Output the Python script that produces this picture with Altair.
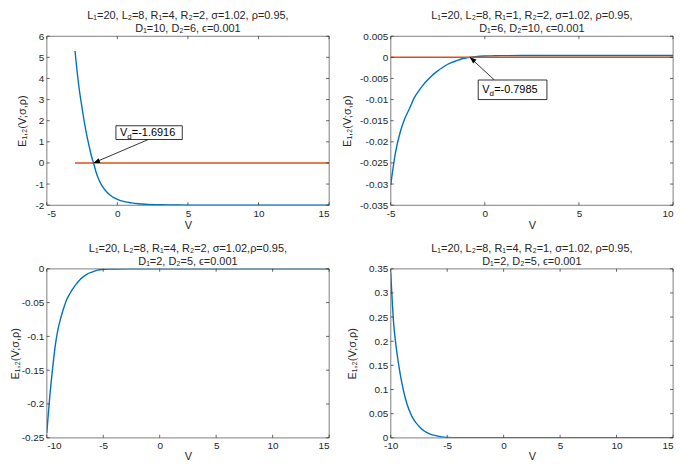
import altair as alt
import pandas as pd

FONT = "Liberation Sans"
BLUE = "#0072BD"
ORANGE = "#D95319"
INK = "#262626"
W, H = 284, 170

# ---------------- data ----------------
p1_v = [-3, -2.75, -2.5, -2.25, -2, -1.75, -1.6916, -1.5, -1.25, -1, -0.75, -0.5,
        -0.25, 0, 0.5, 1, 1.5, 2, 3, 4, 5, 15]
p1_e = [5.3, 3.75, 2.6, 1.6, 0.8, 0.12, 0, -0.45, -0.88, -1.17, -1.38, -1.53,
        -1.64, -1.72, -1.83, -1.89, -1.93, -1.955, -1.98, -1.99, -2, -2]

p2_v = [-5, -4.75, -4.5, -4.25, -4, -3.75, -3.5, -3.25, -3, -2.75, -2.5, -2.25,
        -2, -1.75, -1.5, -1.25, -1, -0.7985, -0.5, 0, 0.5, 1, 2, 4, 10]
p2_e = [-0.0302, -0.0226, -0.0178, -0.0145, -0.0121, -0.0096, -0.0079, -0.0064,
        -0.0052, -0.0041, -0.0032, -0.0024, -0.0017, -0.0012, -0.0008, -0.0004,
        -0.00015, 0, 0.00015, 0.0003, 0.00036, 0.0004, 0.00042, 0.00043, 0.00043]

p3_v = [-10, -9.75, -9.5, -9.25, -9, -8.75, -8.5, -8.25, -8, -7.5, -7, -6.5, -6,
        -5.5, -5, -4.5, -4, -3, 15]
p3_e = [-0.243, -0.192, -0.150, -0.114, -0.089, -0.072, -0.058, -0.046, -0.038,
        -0.025, -0.015, -0.0085, -0.0048, -0.002, -0.0009, -0.0004, -0.0002, 0, 0]

p4_v = [-10, -9.75, -9.5, -9.25, -9, -8.75, -8.5, -8.25, -8, -7.5, -7, -6.5, -6,
        -5.5, -5, -4.5, -4, -3, 15]
p4_e = [0.343, 0.240, 0.185, 0.145, 0.112, 0.086, 0.066, 0.051, 0.039, 0.024,
        0.0135, 0.0078, 0.0045, 0.002, 0.0009, 0.0004, 0.0002, 0, 0]

# axis ranges and ticks
p1_xdom, p1_ydom = [-5, 15], [-2, 6]
p1_xt, p1_yt = [-5, 0, 5, 10, 15], [-2, -1, 0, 1, 2, 3, 4, 5, 6]
p2_xdom, p2_ydom = [-5, 10], [-0.035, 0.005]
p2_xt = [-5, 0, 5, 10]
p2_yt = [-0.035, -0.03, -0.025, -0.02, -0.015, -0.01, -0.005, 0, 0.005]
p3_xdom, p3_ydom = [-10, 15], [-0.25, 0]
p3_xt = [-10, -5, 0, 5, 10, 15]
p3_yt = [-0.25, -0.2, -0.15, -0.1, -0.05, 0]
p4_xdom, p4_ydom = [-10, 15], [0, 0.35]
p4_xt = [-10, -5, 0, 5, 10, 15]
p4_yt = [0, 0.05, 0.1, 0.15, 0.2, 0.25, 0.3, 0.35]

# titles
p1_title = ["L₁=20, L₂=8, R₁=4, R₂=2, σ=1.02, ρ=0.95,", "D₁=10, D₂=6, ϵ=0.001"]
p2_title = ["L₁=20, L₂=8, R₁=1, R₂=2, σ=1.02, ρ=0.95,", "D₁=6, D₂=10, ϵ=0.001"]
p3_title = ["L₁=20, L₂=8, R₁=4, R₂=2, σ=1.02,ρ=0.95,", "D₁=2, D₂=5, ϵ=0.001"]
p4_title = ["L₁=20, L₂=8, R₁=4, R₂=1, σ=1.02, ρ=0.95,", "D₁=2, D₂=5, ϵ=0.001"]
Y_TITLE = "E₁,₂(V;σ,ρ)"
X_TITLE = "V"

# zero reference lines (orange)
p1_zero_v = [-3, 15]
p2_zero_v = [-5, 10]

# annotations: box x0,x1,y0,y1 ; arrow start ; arrow tip ; label ; head angle
p1_ann = dict(box=[-0.1, 4.6, 1.11, 1.76], start=[2.2, 1.11], tip=[-1.6916, 0],
              value="=-1.6916", angle=249)
p2_ann = dict(box=[-0.35, 3.30, -0.0100, -0.00537], start=[0.51, -0.00537],
              tip=[-0.7985, 0], value="=-0.7985", angle=309)


def make_panel(v, e, xdom, ydom, xt, yt, title_lines, zero_v=None, ann=None,
               ytp=3, xtp=1, flush_last=False):
    xs = alt.Scale(domain=xdom, nice=False, zero=False)
    ys = alt.Scale(domain=ydom, nice=False, zero=False)
    xkw = dict(values=xt, title=X_TITLE, labelExpr="'' + datum.value", titlePadding=xtp)
    if flush_last:
        xkw["labelAlign"] = {"condition": {"test": f"datum.value == {xt[-1]}", "value": "right"},
                             "value": "center"}
    xa = alt.Axis(**xkw)
    ya = alt.Axis(values=yt, title=Y_TITLE, labelExpr="'' + datum.value", titlePadding=ytp)

    def X(f):
        return alt.X(f, scale=xs, axis=xa)

    def Y(f):
        return alt.Y(f, scale=ys, axis=ya)

    df = pd.DataFrame({"V": v, "E": e})
    layers = []
    layers.append(
        alt.Chart(df).mark_line(color=BLUE, strokeWidth=1.4, interpolate="monotone", clip=True)
        .encode(x=X("V:Q"), y=Y("E:Q"))
    )
    if zero_v is not None:
        zdf = pd.DataFrame({"V": zero_v, "E": [0] * len(zero_v)})
        layers.append(
            alt.Chart(zdf).mark_line(color=ORANGE, strokeWidth=1.4)
            .encode(x=X("V:Q"), y=Y("E:Q"))
        )
    # inward ticks on all four sides
    xdf = pd.DataFrame({"V": xt})
    ydf = pd.DataFrame({"E": yt})
    for a, b in [(H, H - 3), (0, 3)]:
        layers.append(
            alt.Chart(xdf).mark_rule(color=INK, strokeWidth=0.7)
            .encode(x=X("V:Q"), y=alt.value(a), y2=alt.value(b))
        )
    for a, b in [(0, 3), (W, W - 3)]:
        layers.append(
            alt.Chart(ydf).mark_rule(color=INK, strokeWidth=0.7)
            .encode(y=Y("E:Q"), x=alt.value(a), x2=alt.value(b))
        )
    if ann is not None:
        bx = ann["box"]
        bdf = pd.DataFrame({"V": [bx[0]], "V2": [bx[1]], "E": [bx[2]], "E2": [bx[3]],
                            "Em": [(bx[2] + bx[3]) / 2]})
        adf = pd.DataFrame({"V": [ann["start"][0]], "E": [ann["start"][1]],
                            "Vt": [ann["tip"][0]], "Et": [ann["tip"][1]]})
        layers.append(
            alt.Chart(adf).mark_rule(color="black", strokeWidth=0.8)
            .encode(x=X("V:Q"), y=Y("E:Q"), x2="Vt:Q", y2="Et:Q")
        )
        layers.append(
            alt.Chart(adf).mark_point(shape="M0,0L0.4,1L-0.4,1Z", filled=True, color="black",
                                      opacity=1, size=170, angle=ann["angle"])
            .encode(x=X("Vt:Q"), y=Y("Et:Q"))
        )
        layers.append(
            alt.Chart(bdf).mark_rect(fill="white", stroke="black", strokeWidth=0.8)
            .encode(x=X("V:Q"), x2="V2:Q", y=Y("E:Q"), y2="E2:Q")
        )
        for txt, dx, dy, fs in [("V", 4, 0, 11), ("d", 11.3, 4, 8), (ann["value"], 16, 0, 11)]:
            layers.append(
                alt.Chart(bdf).mark_text(text=txt, align="left", baseline="middle", dx=dx, dy=dy,
                                         fontSize=fs, font=FONT, color="black")
                .encode(x=X("V:Q"), y=Y("Em:Q"))
            )
    return alt.layer(*layers).properties(
        width=W, height=H,
        title=alt.TitleParams(text=title_lines, fontSize=11, fontWeight="normal", font=FONT,
                              color=INK, lineHeight=13, offset=-3, anchor="middle",
                              frame="group"),
    )


c1 = make_panel(p1_v, p1_e, p1_xdom, p1_ydom, p1_xt, p1_yt, p1_title, p1_zero_v, p1_ann,
                ytp=8, xtp=1)
c2 = make_panel(p2_v, p2_e, p2_xdom, p2_ydom, p2_xt, p2_yt, p2_title, p2_zero_v, p2_ann,
                ytp=7, xtp=1, flush_last=True)
c3 = make_panel(p3_v, p3_e, p3_xdom, p3_ydom, p3_xt, p3_yt, p3_title, ytp=1, xtp=0)
c4 = make_panel(p4_v, p4_e, p4_xdom, p4_ydom, p4_xt, p4_yt, p4_title, ytp=11, xtp=0,
                flush_last=True)

chart = (
    alt.concat(c1, c2, c3, c4, columns=2, spacing={"row": 64, "column": 62}, bounds="flush")
    .properties(padding=0)
    .configure_view(stroke=INK, strokeWidth=0.6)
    .configure_axis(
        labelFont=FONT, labelFontSize=10, labelColor=INK, labelPadding=3,
        titleFont=FONT, titleFontSize=11, titleFontWeight="normal", titleColor=INK,
        ticks=False, domain=False, grid=False,
    )
)

chart.save("out.html", embed_options={"renderer": "svg", "actions": False})
